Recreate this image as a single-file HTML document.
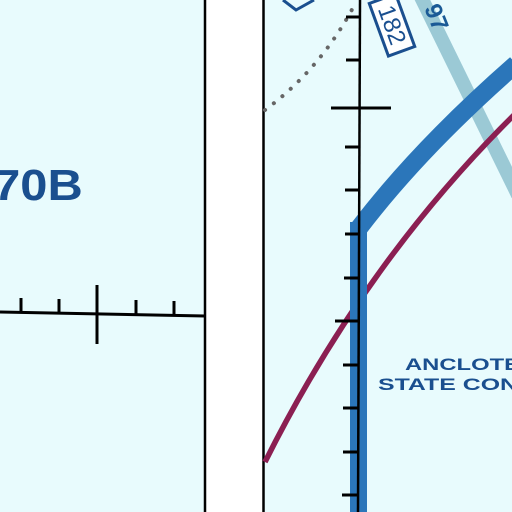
<!DOCTYPE html>
<html><head><meta charset="utf-8"><style>
html,body{margin:0;padding:0;background:#e8fbfd}
svg{display:block}
text{font-family:"Liberation Sans",sans-serif}
</style></head><body>
<svg width="512" height="512" viewBox="0 0 512 512">
<rect x="0" y="0" width="512" height="512" fill="#e8fbfd"/>
<rect x="205" y="0" width="58" height="512" fill="#ffffff"/>
<line x1="205" y1="0" x2="205" y2="512" stroke="#000" stroke-width="2.5"/>
<line x1="263.5" y1="0" x2="263.5" y2="512" stroke="#000" stroke-width="2.5"/>
<path d="M265,110 Q322,68 356,2" fill="none" stroke="#666" stroke-width="4" stroke-dasharray="0.1 11" stroke-linecap="round"/>
<line x1="420" y1="-5" x2="518" y2="195" stroke="#9bc9d5" stroke-width="14"/>
<text x="0" y="0" font-size="24" font-weight="bold" fill="#1a5a96" transform="translate(424,8) rotate(68)">97</text>
<path d="M265,462 Q365,262 515,114" fill="none" stroke="#8b1f52" stroke-width="5.5"/>
<rect x="350" y="222" width="17" height="295" fill="#2b76ba"/>
<path d="M359,228 Q420,148 516,64" fill="none" stroke="#2b76ba" stroke-width="18"/>
<path d="M360,0 L358,512" stroke="#000" stroke-width="2.5"/>
<g stroke="#000" stroke-width="3">
<line x1="346" y1="17" x2="360" y2="17"/><line x1="346" y1="60" x2="360" y2="60"/>
<line x1="331" y1="108" x2="391" y2="108"/>
<line x1="345" y1="147" x2="360" y2="147"/><line x1="345" y1="190" x2="360" y2="190"/>
<line x1="345" y1="234" x2="360" y2="234"/><line x1="344" y1="278" x2="359" y2="278"/>
<line x1="335" y1="321" x2="359" y2="321"/><line x1="343" y1="365" x2="359" y2="365"/>
<line x1="343" y1="408" x2="359" y2="408"/><line x1="343" y1="452" x2="359" y2="452"/>
<line x1="342" y1="495" x2="358" y2="495"/>
</g>
<g stroke="#000" stroke-width="3">
<line x1="0" y1="312" x2="205" y2="316"/>
<line x1="21" y1="298" x2="21" y2="312"/><line x1="59" y1="299" x2="59" y2="313"/>
<line x1="97" y1="285" x2="97" y2="344"/>
<line x1="136" y1="300" x2="136" y2="315"/><line x1="174" y1="301" x2="174" y2="316"/>
</g>
<g transform="translate(392,25) rotate(-20)">
<rect x="-14" y="-28" width="28" height="56" fill="#fff" stroke="#1a4f8f" stroke-width="3"/>
<text x="0" y="0" font-size="24" fill="#1a4f8f" text-anchor="middle" transform="rotate(90) translate(0,8)">182</text>
</g>
<path d="M283,0 L296,10 L314,0" fill="none" stroke="#1a4f8f" stroke-width="3"/>
<text x="-6" y="200" font-size="44" font-weight="bold" fill="#1a4f8f" transform="scale(1.15,1)" textLength="78" lengthAdjust="spacingAndGlyphs">70B</text>
<text x="405" y="370" font-size="17" font-weight="bold" fill="#1a4f8f" textLength="115" lengthAdjust="spacingAndGlyphs">ANCLOTE</text>
<text x="378" y="390" font-size="17" font-weight="bold" fill="#1a4f8f" textLength="140" lengthAdjust="spacingAndGlyphs">STATE CON</text>
</svg>
</body></html>
